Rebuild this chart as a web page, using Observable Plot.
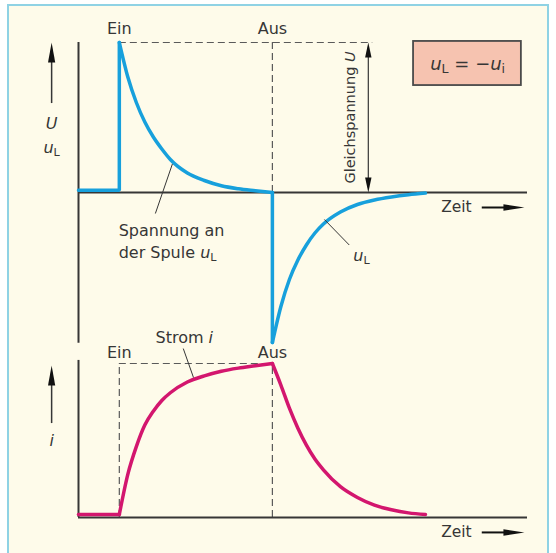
<!DOCTYPE html>
<html><head><meta charset="utf-8">
<script src="https://cdn.jsdelivr.net/npm/d3@7"></script>
<script src="https://cdn.jsdelivr.net/npm/@observablehq/plot@0.6"></script>
<style>
html,body{margin:0;padding:0;background:#fff;}
#page{position:relative;width:556px;height:553px;overflow:hidden;background:#fff;}
#frame{position:absolute;left:7px;top:4px;width:538px;height:570px;border:2px solid #8fd2e4;background:#fefbea;}
#top,#bottom{position:absolute;left:0;}
#top{top:0;} #bottom{top:320px;}
svg{overflow:visible;}
</style></head><body>
<div id="page"><div id="frame"></div><div id="top"></div><div id="bottom"></div></div>
<script>
// ---------- data (time in units of the time constant) ----------
const timeStart = -1.2, timeEnd = 12;
const switchLabels = ["Ein", "Aus"];
const switchTimes = [0, 4.5];
const restLevel = 0.015;          // traces sit just above the axis before "Ein"
const decayTimes = [0, 0.25, 0.5, 0.75, 1, 1.25, 1.5, 2, 2.5, 3, 3.5, 4, 4.5];
const uOnValues  = [1, 0.77, 0.6, 0.47, 0.37, 0.29, 0.22, 0.13, 0.08, 0.045, 0.025, 0.012, 0];
const uOffValues = [-1, -0.76, -0.58, -0.45, -0.35, -0.27, -0.21, -0.13, -0.08, -0.05, -0.03, -0.015, -0.004];
const iOnValues  = [0.02, 0.28, 0.46, 0.6, 0.69, 0.76, 0.81, 0.88, 0.92, 0.95, 0.97, 0.985, 1];
const iOffValues = [1, 0.86, 0.71, 0.58, 0.47, 0.38, 0.31, 0.2, 0.13, 0.08, 0.05, 0.03, 0.02];

// ---------- styles ----------
const BLUE = "#17a0dc", PINK = "#d3166e", INK = "#363636", DASH = "#5a5a5a";
const FONT = "DejaVu Sans";

const [tEin, tAus] = switchTimes;
const uOn  = decayTimes.map((d, k) => ({t: tEin + d, v: uOnValues[k]}));
const uOff = decayTimes.map((d, k) => ({t: tAus + d, v: uOffValues[k]}));
const iOn  = decayTimes.map((d, k) => ({t: tEin + d, v: iOnValues[k]}));
const iOff = decayTimes.map((d, k) => ({t: tAus + d, v: iOffValues[k]}));
const uStepOn  = [{t: timeStart, v: restLevel}, {t: tEin, v: restLevel}, {t: tEin, v: uOnValues[0]}];
const uStepOff = [{t: tAus, v: uOnValues[uOnValues.length - 1]}, {t: tAus, v: uOffValues[0]}];
const iRest    = [{t: timeStart, v: iOnValues[0]}, {t: tEin, v: iOnValues[0]}];

// arrowhead symbols (tip at the anchor)
const headUp    = {draw(c){c.moveTo(0,0);c.lineTo(3.6,20);c.lineTo(-3.6,20);c.closePath();}};
const headUpS   = {draw(c){c.moveTo(0,0);c.lineTo(3.2,15);c.lineTo(-3.2,15);c.closePath();}};
const headDownS = {draw(c){c.moveTo(0,0);c.lineTo(3.2,-15);c.lineTo(-3.2,-15);c.closePath();}};
const headRight = {draw(c){c.moveTo(0,0);c.lineTo(-21,3.2);c.lineTo(-21,-3.2);c.closePath();}};

const xScale = {domain: [timeStart, timeEnd], axis: null};
const common = {width: 556, marginLeft: 78, marginRight: 29,
  style: {background: "transparent", overflow: "visible", fontFamily: FONT, color: INK}};

function txt(rows, o) {
  return Plot.text(rows, {x: "x", y: "y", text: "s", fill: INK, fontSize: 16, fontFamily: FONT, ...o});
}

const topPlot = Plot.plot({
  ...common, height: 350, marginTop: 42, marginBottom: 8,
  x: xScale, y: {domain: [-1, 1], axis: null},
  marks: [
    Plot.rect([{x1: 8.65, x2: 11.82, y1: 0.713, y2: 1.007}], {x1: "x1", x2: "x2", y1: "y1", y2: "y2", fill: "#f6c3b0", stroke: "#4a4a4a", strokeWidth: 1.8}),
    txt([{x: 10.24, y: 0.853, s: "*u*_L = −*u*_i"}], {fontSize: 18}),
    Plot.ruleY([1], {x1: tEin, x2: 7.45, stroke: DASH, strokeWidth: 1.2, strokeDasharray: "7,4"}),
    Plot.ruleX([tAus], {y1: 0, y2: 1, stroke: DASH, strokeWidth: 1.2, strokeDasharray: "7,4"}),
    Plot.ruleY([0], {x1: timeStart, x2: timeEnd, stroke: INK, strokeWidth: 2}),
    Plot.ruleX([timeStart], {y1: -1.005, y2: 1, stroke: INK, strokeWidth: 2}),
    // Gleichspannung double arrow
    Plot.ruleX([7.32], {y1: 0.03, y2: 0.97, stroke: INK, strokeWidth: 1.2}),
    Plot.dot([{x: 7.32, y: 1}], {x: "x", y: "y", symbol: headUpS, fill: "#111", stroke: "none", r: 5}),
    Plot.dot([{x: 7.32, y: 0}], {x: "x", y: "y", symbol: headDownS, fill: "#111", stroke: "none", r: 5}),
    txt([{x: 6.8, y: 0.5, s: "Gleichspannung *U*"}], {rotate: -90, fontSize: 14.5}),
    // voltage trace
    Plot.line(uStepOn, {x: "t", y: "v", stroke: BLUE, strokeWidth: 3.5, strokeLinejoin: "miter"}),
    Plot.line(uOn, {x: "t", y: "v", stroke: BLUE, strokeWidth: 3.5, curve: "monotone-x"}),
    Plot.line(uStepOff, {x: "t", y: "v", stroke: BLUE, strokeWidth: 3.5}),
    Plot.line(uOff, {x: "t", y: "v", stroke: BLUE, strokeWidth: 3.5, curve: "monotone-x"}),
    // leaders
    Plot.link([{x1: 1.56, y1: 0.19, x2: 1.06, y2: -0.14}, {x1: 6.03, y1: -0.18, x2: 6.76, y2: -0.35}],
      {x1: "x1", y1: "y1", x2: "x2", y2: "y2", stroke: INK, strokeWidth: 1}),
    // labels
    txt(switchTimes.map((t, k) => ({x: t, y: 1.093, s: switchLabels[k]}))),
    txt([{x: -0.02, y: -0.253, s: "Spannung an"}, {x: -0.02, y: -0.4, s: "der Spule *u*_L"}], {textAnchor: "start"}),
    txt([{x: 7.12, y: -0.42, s: "*u*_L"}]),
    txt([{x: 9.91, y: -0.1, s: "Zeit"}], {fontSize: 15.5}),
    Plot.ruleY([-0.1], {x1: 10.67, x2: 11.4, stroke: "#111", strokeWidth: 2}),
    Plot.dot([{x: 11.91, y: -0.1}], {x: "x", y: "y", symbol: headRight, fill: "#111", stroke: "none", r: 5}),
    // left axis arrow and labels
    Plot.ruleX([-1.99], {y1: 0.593, y2: 0.9, stroke: INK, strokeWidth: 1.5}),
    Plot.dot([{x: -1.99, y: 1}], {x: "x", y: "y", symbol: headUp, fill: "#111", stroke: "none", r: 5}),
    txt([{x: -1.99, y: 0.46, s: "*U*"}, {x: -1.99, y: 0.3, s: "*u*_L"}])
  ]
});

const bottomPlot = Plot.plot({
  ...common, height: 233, marginTop: 43, marginBottom: 36,
  x: xScale, y: {domain: [0, 1], axis: null},
  marks: [
    Plot.ruleX(switchTimes, {y1: 0, y2: 1, stroke: DASH, strokeWidth: 1.2, strokeDasharray: "7,4"}),
    Plot.ruleY([1], {x1: tEin, x2: tAus, stroke: DASH, strokeWidth: 1.2, strokeDasharray: "7,4"}),
    Plot.ruleY([0], {x1: timeStart, x2: timeEnd, stroke: INK, strokeWidth: 2}),
    Plot.ruleX([timeStart], {y1: 0, y2: 1.02, stroke: INK, strokeWidth: 2}),
    Plot.line(iRest, {x: "t", y: "v", stroke: PINK, strokeWidth: 3.5}),
    Plot.line(iOn, {x: "t", y: "v", stroke: PINK, strokeWidth: 3.5, curve: "monotone-x"}),
    Plot.line(iOff, {x: "t", y: "v", stroke: PINK, strokeWidth: 3.5, curve: "monotone-x"}),
    Plot.link([{x1: 1.88, y1: 1.097, x2: 2.18, y2: 0.909}], {x1: "x1", y1: "y1", x2: "x2", y2: "y2", stroke: INK, strokeWidth: 1}),
    txt([{x: 1.91, y: 1.169, s: "Strom *i*"}]),
    txt(switchTimes.map((t, k) => ({x: t, y: 1.071, s: switchLabels[k]}))),
    txt([{x: 9.91, y: -0.097, s: "Zeit"}], {fontSize: 15.5}),
    Plot.ruleY([-0.097], {x1: 10.67, x2: 11.4, stroke: "#111", strokeWidth: 2}),
    Plot.dot([{x: 11.91, y: -0.097}], {x: "x", y: "y", symbol: headRight, fill: "#111", stroke: "none", r: 5}),
    Plot.ruleX([-1.99], {y1: 0.61, y2: 0.9, stroke: INK, strokeWidth: 1.5}),
    Plot.dot([{x: -1.99, y: 0.987}], {x: "x", y: "y", symbol: headUp, fill: "#111", stroke: "none", r: 5}),
    txt([{x: -1.99, y: 0.5, s: "*i*"}])
  ]
});

// rich text: *italic* and _subscript
function richify(svg) {
  const NS = "http://www.w3.org/2000/svg";
  svg.querySelectorAll("text").forEach(t => {
    const s = t.textContent;
    if (!/[*_]/.test(s)) return;
    while (t.firstChild) t.removeChild(t.firstChild);
    const re = /\*([^*]+)\*|_(\w)|([^*_]+)/g;
    let m, shifted = false;
    while ((m = re.exec(s))) {
      const ts = document.createElementNS(NS, "tspan");
      if (m[1]) { ts.textContent = m[1]; ts.setAttribute("font-style", "italic"); if (shifted) { ts.setAttribute("dy", "-3"); shifted = false; } }
      else if (m[2]) { ts.textContent = m[2]; ts.setAttribute("font-size", "0.7em"); ts.setAttribute("dy", "3"); shifted = true; }
      else { ts.textContent = m[3]; if (shifted) { ts.setAttribute("dy", "-3"); shifted = false; } }
      t.appendChild(ts);
    }
  });
}
richify(topPlot); richify(bottomPlot);
document.getElementById("top").appendChild(topPlot);
document.getElementById("bottom").appendChild(bottomPlot);
</script>
</body></html>
